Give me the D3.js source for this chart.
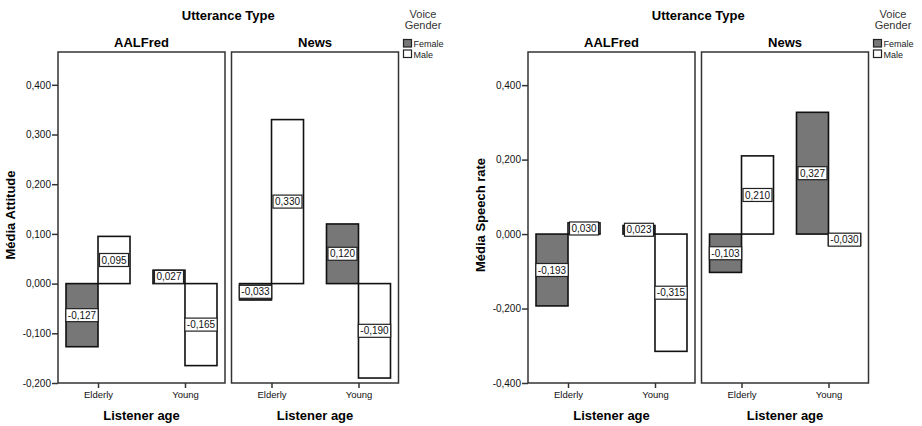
<!DOCTYPE html>
<html>
<head>
<meta charset="utf-8">
<script src="https://cdn.jsdelivr.net/npm/d3@7"></script>
<style>
  body { margin: 0; background: #fff; }
  svg { display: block; font-family: "Liberation Sans", Arial, sans-serif; }
</style>
</head>
<body>
<svg id="graph" width="922" height="426"></svg>
<script>
// categories
var utteranceTypes = ["AALFred", "News"];
var listenerAges = ["Elderly", "Young"];
var voiceGenders = ["Female", "Male"];

// means, order: AALFred-Elderly, AALFred-Young, News-Elderly, News-Young
var attitudeFemale = [-0.127, 0.027, -0.033, 0.120];
var attitudeMale = [0.095, -0.165, 0.330, -0.190];
var speechFemale = [-0.193, 0.023, -0.103, 0.327];
var speechMale = [0.030, -0.315, 0.210, -0.030];

// y ticks
var attitudeTicks = [-0.2, -0.1, 0, 0.1, 0.2, 0.3, 0.4];
var speechTicks = [-0.4, -0.2, 0, 0.2, 0.4];

var svg = d3.select("#graph");
var genderFill = {Female: "#777777", Male: "#ffffff"};

var locale = d3.formatLocale({decimal: ",", thousands: ".", grouping: [3], currency: ["", ""], minus: "-"});
var fmt = locale.format(".3f");

function drawChart(offsetX, yTitle, yMax, yMin, ticks, female, male) {
    var g = svg.append("g").attr("transform", "translate(" + offsetX + ",0)");
    var top = 52, bottom = 383;
    var panelLeft = 58, panelWidth = 167, panelStep = 173.5;

    var y = d3.scaleLinear().domain([yMin, yMax]).range([bottom, top]);
    var x = d3.scalePoint().domain(listenerAges).range([0, panelWidth]).padding(0.46);
    var xg = d3.scaleBand().domain(voiceGenders).range([-32, 32]);

    g.append("text")
        .attr("x", panelLeft + (panelStep + panelWidth) / 2)
        .attr("y", 19.5)
        .attr("text-anchor", "middle")
        .attr("font-size", "13px")
        .attr("font-weight", "bold")
        .text("Utterance Type");

    // legend
    g.append("text").attr("x", 423).attr("y", 18).attr("text-anchor", "middle")
        .attr("font-size", "11px").attr("fill", "#333").text("Voice");
    g.append("text").attr("x", 423).attr("y", 29).attr("text-anchor", "middle")
        .attr("font-size", "11px").attr("fill", "#333").text("Gender");
    voiceGenders.forEach(function (gender, i) {
        g.append("rect")
            .attr("x", 403.5).attr("y", 39.5 + i * 10.5)
            .attr("width", 8).attr("height", 7.5)
            .attr("fill", genderFill[gender])
            .attr("stroke", "#222").attr("stroke-width", 1.2);
        g.append("text")
            .attr("x", 413.5).attr("y", 47 + i * 10.5)
            .attr("font-size", "9px").attr("fill", "#222")
            .text(gender);
    });

    // y title
    g.append("text")
        .attr("transform", "translate(15," + 215 + ") rotate(-90)")
        .attr("text-anchor", "middle")
        .attr("font-size", "13px")
        .attr("font-weight", "bold")
        .text(yTitle);

    // y axis
    var yAxis = g.append("g")
        .attr("transform", "translate(" + panelLeft + ",0)")
        .call(d3.axisLeft(y).tickValues(ticks).tickSize(6).tickPadding(1).tickFormat(fmt));
    yAxis.select(".domain").remove();
    yAxis.selectAll("line").attr("stroke", "#333").attr("stroke-width", 1.5);
    yAxis.selectAll("text").attr("font-size", "10px").attr("font-family", "Liberation Sans, Arial, sans-serif").attr("fill", "#111");

    utteranceTypes.forEach(function (ut, p) {
        var px = panelLeft + p * panelStep;
        var pg = g.append("g").attr("transform", "translate(" + px + ",0)");

        pg.append("text")
            .attr("x", panelWidth / 2)
            .attr("y", 46.5)
            .attr("text-anchor", "middle")
            .attr("font-size", "13px")
            .attr("font-weight", "bold")
            .text(ut);

        pg.append("text")
            .attr("x", panelWidth / 2)
            .attr("y", 419.5)
            .attr("text-anchor", "middle")
            .attr("font-size", "13px")
            .attr("font-weight", "bold")
            .text("Listener age");

        var bars = [];
        listenerAges.forEach(function (age, a) {
            bars.push({age: age, gender: "Female", value: female[p * 2 + a]});
            bars.push({age: age, gender: "Male", value: male[p * 2 + a]});
        });

        pg.selectAll("rect.bar")
            .data(bars)
            .enter().append("rect")
            .attr("class", "bar")
            .attr("x", function (d) { return x(d.age) + xg(d.gender); })
            .attr("width", xg.bandwidth())
            .attr("y", function (d) { return y(Math.max(0, d.value)); })
            .attr("height", function (d) { return Math.abs(y(d.value) - y(0)); })
            .attr("fill", function (d) { return genderFill[d.gender]; })
            .attr("stroke", "#111")
            .attr("stroke-width", 1.6);

        // value labels in white boxes
        bars.forEach(function (d) {
            var cx = x(d.age) + xg(d.gender) + xg.bandwidth() / 2;
            var cy = (y(d.value) + y(0)) / 2;
            var lg = pg.append("g");
            var rect = lg.append("rect");
            var t = lg.append("text")
                .attr("x", cx)
                .attr("y", cy + 3.6)
                .attr("text-anchor", "middle")
                .attr("font-size", "10px")
                .attr("fill", "#111")
                .text(fmt(d.value));
            var w = t.node().getComputedTextLength() + 4;
            rect.attr("x", cx - w / 2).attr("y", cy - 6.5)
                .attr("width", w).attr("height", 13)
                .attr("fill", "#fff")
                .attr("stroke", "#222")
                .attr("stroke-width", 1.2);
        });

        // panel frame
        pg.append("rect")
            .attr("x", 0).attr("y", top)
            .attr("width", panelWidth).attr("height", bottom - top)
            .attr("fill", "none")
            .attr("stroke", "#333")
            .attr("stroke-width", 1.5);

        var xAxis = pg.append("g")
            .attr("transform", "translate(0," + bottom + ")")
            .call(d3.axisBottom(x).tickSize(5).tickPadding(3));
        xAxis.select(".domain").remove();
        xAxis.selectAll("line").attr("stroke", "#333").attr("stroke-width", 1.5);
        xAxis.selectAll("text").attr("font-size", "9.5px").attr("font-family", "Liberation Sans, Arial, sans-serif").attr("fill", "#111");
    });
}

drawChart(0, "Média Attitude", 0.466, -0.2, attitudeTicks, attitudeFemale, attitudeMale);
drawChart(470, "Média Speech rate", 0.489, -0.4, speechTicks, speechFemale, speechMale);
</script>
</body>
</html>
